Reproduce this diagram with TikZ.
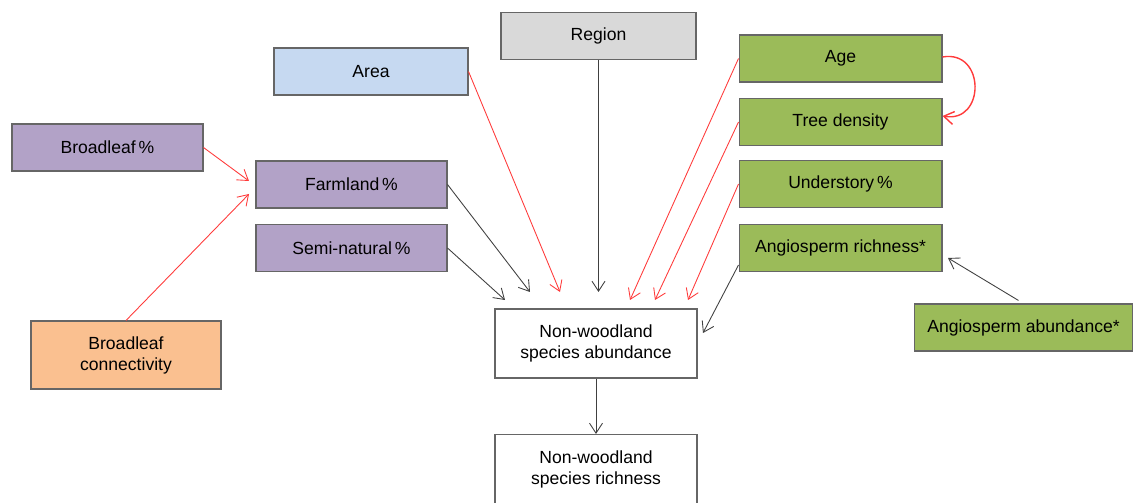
\documentclass[tikz,border=0pt]{standalone}
\usepackage{fontspec}
\setmainfont{Liberation Sans}
\usepackage{tikz}
\usetikzlibrary{arrows.meta}

\definecolor{regiongray}{HTML}{D9D9D9}
\definecolor{areablue}{HTML}{C6D9F1}
\definecolor{landpurple}{HTML}{B2A2C7}
\definecolor{connorange}{HTML}{FAC090}
\definecolor{standgreen}{HTML}{9BBB59}
\definecolor{redline}{HTML}{FF3B3B}
\definecolor{greyline}{HTML}{404040}

\begin{document}
\begin{tikzpicture}
[x=0.02cm,y=-0.02cm,
 font=\fontsize{10}{12}\selectfont,
 bx/.style={draw=greyline!80,line width=0.6pt,align=center,inner sep=0pt,minimum height=0.94cm},
 ra/.style={draw=redline,line width=0.5pt,arrows={-Straight Barb[length=2mm,width=2.6mm]}},
 ba/.style={draw=greyline,line width=0.5pt,arrows={-Straight Barb[length=2mm,width=2.6mm]}}]
\useasboundingbox (0,0) rectangle (1133,503);
\clip (0,0) rectangle (1133,503);

\node[bx,fill=regiongray,minimum width=3.9cm] (region) at (598.5,36) {Region};
\node[bx,fill=areablue,minimum width=3.88cm] (area) at (371,71.5) {Area};
\node[bx,fill=landpurple,minimum width=3.82cm] (broadleaf) at (107.5,147.5) {Broadleaf\,\%};
\node[bx,fill=landpurple,minimum width=3.82cm] (farmland) at (351.5,184.5) {Farmland\,\%};
\node[bx,fill=landpurple,minimum width=3.82cm] (seminat) at (351.5,248) {Semi-natural\,\%};
\node[bx,fill=connorange,minimum width=3.8cm,minimum height=1.36cm] (connect) at (126,355) {Broadleaf\\connectivity};
\node[bx,fill=standgreen,minimum width=4.06cm] (age) at (840.5,58.5) {Age};
\node[bx,fill=standgreen,minimum width=4.06cm] (density) at (840.5,122) {Tree density};
\node[bx,fill=standgreen,minimum width=4.06cm] (understory) at (840.5,184) {Understory\,\%};
\node[bx,fill=standgreen,minimum width=4.06cm] (angrich) at (840.5,248) {Angiosperm richness*};
\node[bx,fill=standgreen,minimum width=4.38cm] (angabund) at (1023.5,327.5) {Angiosperm abundance*};
\node[bx,fill=white,minimum width=4.04cm,minimum height=1.38cm] (abund) at (596,343.5) {Non-woodland\\species abundance};
\node[bx,fill=white,minimum width=4.04cm,minimum height=1.4cm] (rich) at (596,469.5) {Non-woodland\\species richness};

% free arrow ends above the abundance box
\coordinate (tArea) at (560,292);
\coordinate (tRegion) at (598.5,292);
\coordinate (tFarm) at (530,292);
\coordinate (tSemi) at (505,300);
\coordinate (tAge) at (630,300);
\coordinate (tDens) at (655,300);
\coordinate (tUnder) at (688,300);
\coordinate (tAngr) at (703,333);
\coordinate (tAnga) at (948,258);
\coordinate (tBroad) at (249,181);
\coordinate (tConn) at (249,194);
\path (angrich.west) +(0,17) coordinate (sAngr);
\path (angabund.north) +(-5,-3) coordinate (sAnga);

\draw[ra] (area.east) -- (tArea);
\draw[ba] (region.south) -- (tRegion);
\draw[ba] (farmland.east) -- (tFarm);
\draw[ba] (seminat.east) -- (tSemi);
\draw[ra] (age.west) -- (tAge);
\draw[ra] (density.west) -- (tDens);
\draw[ra] (understory.west) -- (tUnder);
\draw[ba] (sAngr) -- (tAngr);
\draw[ba] (sAnga) -- (tAnga);
\draw[ra] (broadleaf.east) -- (tBroad);
\draw[ra] (connect.north) -- (tConn);
\draw[ba] (abund.south) -- (rich.north);
\draw[ra,line width=0.8pt] ([yshift=0.03cm]age.east) to[out=10,in=-10,looseness=1.9] ([yshift=0.12cm]density.east);

\end{tikzpicture}
\end{document}
